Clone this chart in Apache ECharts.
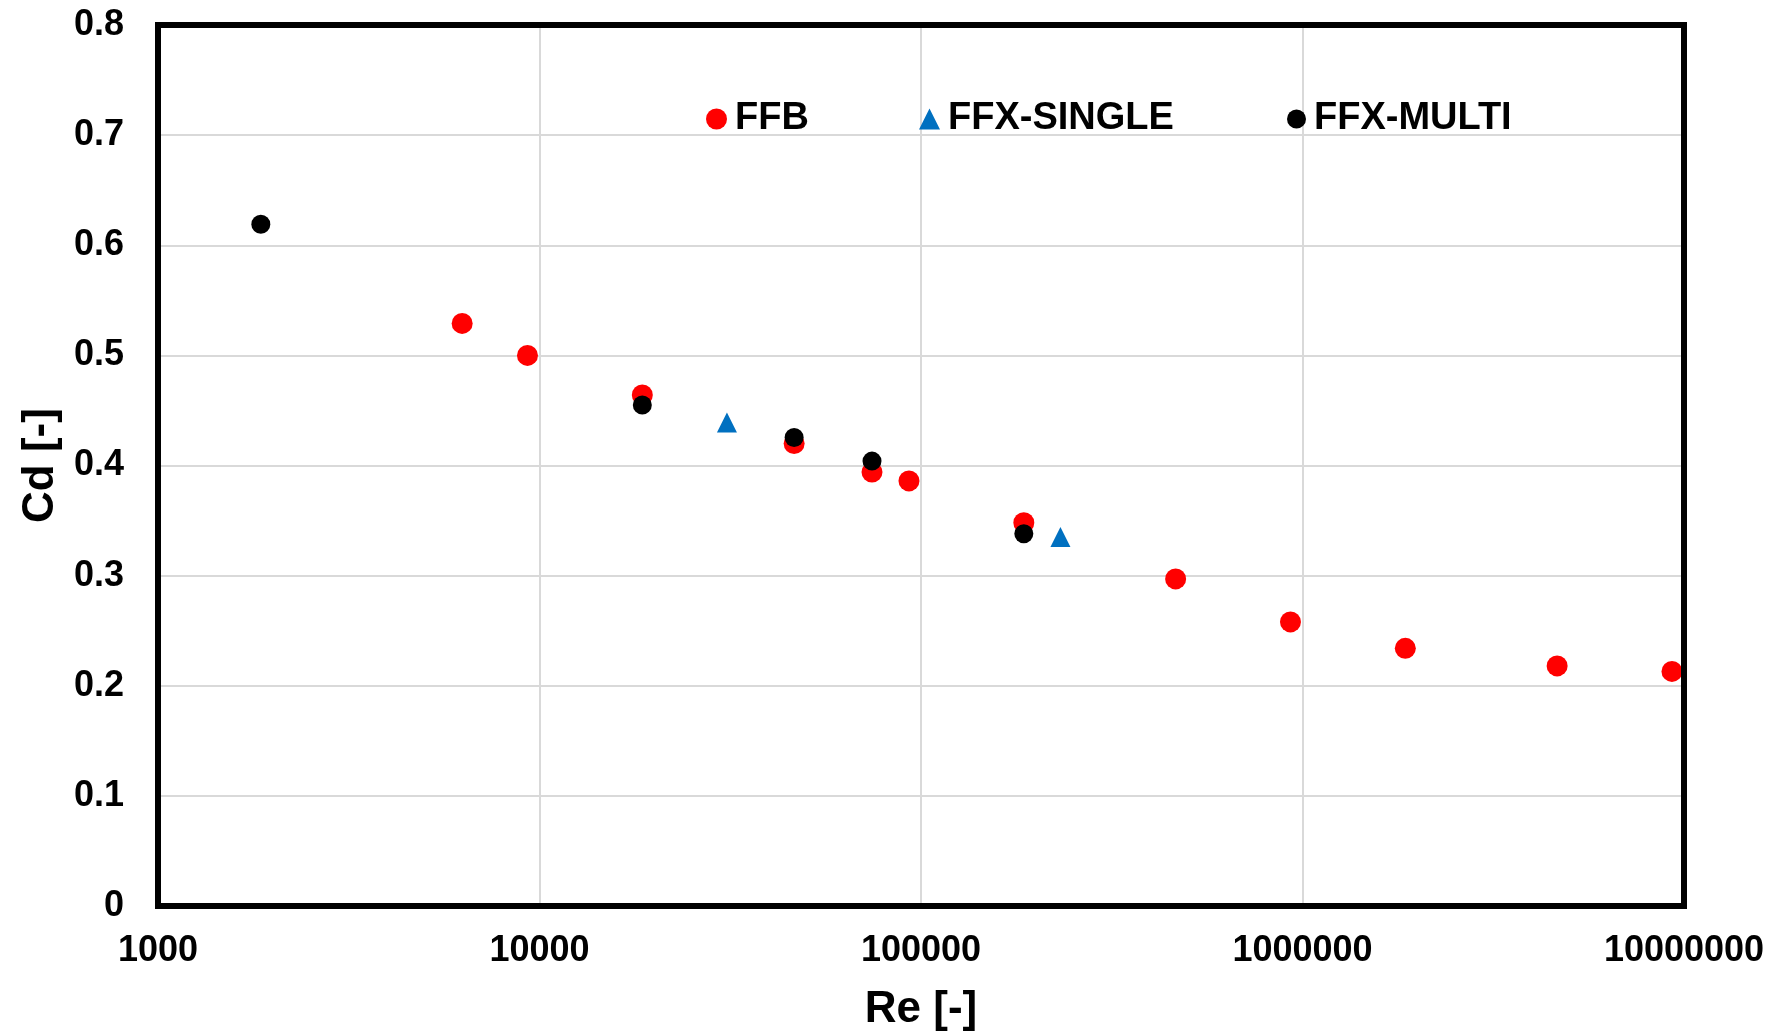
<!DOCTYPE html>
<html>
<head>
<meta charset="utf-8">
<script src="https://cdn.jsdelivr.net/npm/echarts@6/dist/echarts.min.js"></script>
<style>
html,body{margin:0;padding:0;background:#fff;}
#chart{width:1775px;height:1033px;}
</style>
</head>
<body>
<div id="chart"></div>
<script>
// ---- data ----
const ffbRe = [6270, 9300, 18600, 46500, 74400, 93000, 186000, 465000, 930000, 1860000, 4650000, 9300000];
const ffbCd = [0.529, 0.500, 0.464, 0.420, 0.394, 0.386, 0.348, 0.297, 0.258, 0.234, 0.218, 0.213];
const singleRe = [31000, 232000];
const singleCd = [0.439, 0.335];
const multiRe = [1860, 18600, 46500, 74400, 186000];
const multiCd = [0.619, 0.455, 0.4255, 0.404, 0.338];
const seriesNames = ['FFB', 'FFX-SINGLE', 'FFX-MULTI'];
const xTicks = [1000, 10000, 100000, 1000000, 10000000];
const yTicks = [0, 0.1, 0.2, 0.3, 0.4, 0.5, 0.6, 0.7, 0.8];
const xTitle = 'Re [-]';
const yTitle = 'Cd [-]';

const pair = (xs, ys) => xs.map((x, i) => [x, ys[i]]);
const FONT = '"Liberation Sans", Arial, sans-serif';

const chart = echarts.init(document.getElementById('chart'));
const legendBase = {
  orient: 'horizontal', itemWidth: 21, itemHeight: 21, itemGap: 0, top: 95,
  textStyle: { fontFamily: FONT, fontWeight: 'bold', fontSize: 38, color: '#000', padding: [0, 0, 0, 3] }
};
chart.setOption({
  animation: false,
  backgroundColor: '#fff',
  legend: [
    Object.assign({}, legendBase, { left: 701, data: [seriesNames[0]] }),
    Object.assign({}, legendBase, { left: 914, data: [seriesNames[1]] }),
    Object.assign({}, legendBase, { left: 1282, itemWidth: 19, itemHeight: 19, data: [seriesNames[2]] })
  ],
  grid: { left: 158, right: 91, top: 25, bottom: 127, outerBoundsMode: 'none', containLabel: false,
    show: true, borderColor: '#000', borderWidth: 6, backgroundColor: 'transparent', z: 3 },
  xAxis: {
    type: 'log', logBase: 10, min: xTicks[0], max: xTicks[xTicks.length - 1],
    name: xTitle, nameLocation: 'middle', nameGap: 82,
    nameTextStyle: { fontFamily: FONT, fontWeight: 'bold', fontSize: 44, color: '#000' },
    axisLine: { show: false }, axisTick: { show: false },
    splitLine: { show: true, showMinLine: false, showMaxLine: false, lineStyle: { color: '#d9d9d9', width: 2 } },
    minorSplitLine: { show: false },
    axisLabel: {
      fontFamily: FONT, fontWeight: 'bold', fontSize: 36, color: '#000', margin: 27,
      formatter: v => String(Math.round(v))
    }
  },
  yAxis: {
    type: 'value', min: yTicks[0], max: yTicks[yTicks.length - 1], interval: 0.1,
    name: yTitle, nameLocation: 'middle', nameGap: 92, nameRotate: 90,
    nameTextStyle: { fontFamily: FONT, fontWeight: 'bold', fontSize: 44, color: '#000' },
    axisLine: { show: false }, axisTick: { show: false },
    splitLine: { show: true, showMinLine: false, showMaxLine: false, lineStyle: { color: '#d9d9d9', width: 2 } },
    axisLabel: {
      fontFamily: FONT, fontWeight: 'bold', fontSize: 36, color: '#000', margin: 34,
      formatter: v => (Math.round(v * 10) / 10).toString()
    }
  },
  series: [
    { name: seriesNames[0], type: 'scatter', symbol: 'circle', symbolSize: 21,
      itemStyle: { color: '#ff0000', opacity: 1 }, data: pair(ffbRe, ffbCd) },
    { name: seriesNames[1], type: 'scatter', symbol: 'triangle', symbolSize: 20,
      itemStyle: { color: '#0070c0', opacity: 1 }, data: pair(singleRe, singleCd) },
    { name: seriesNames[2], type: 'scatter', symbol: 'circle', symbolSize: 19,
      itemStyle: { color: '#000000', opacity: 1 }, data: pair(multiRe, multiCd) }
  ]
});
</script>
</body>
</html>
